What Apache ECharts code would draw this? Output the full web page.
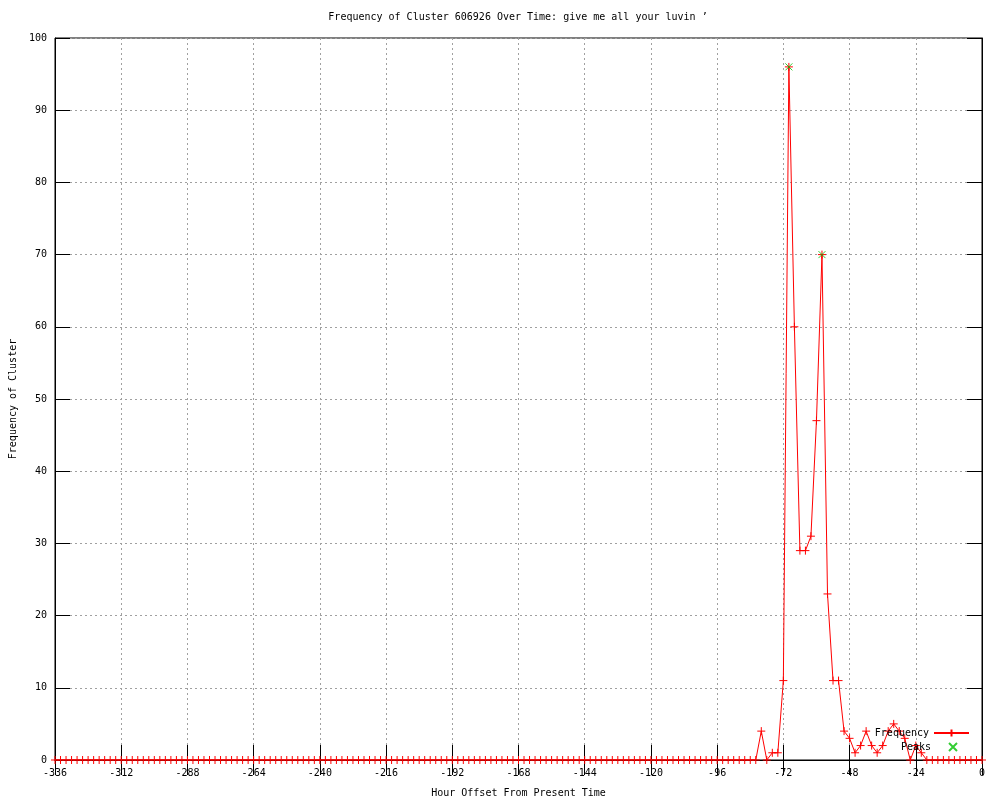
<!DOCTYPE html>
<html>
<head>
<meta charset="utf-8">
<script src="https://cdn.jsdelivr.net/npm/echarts@6/dist/echarts.min.js"></script>
<style>html,body{margin:0;padding:0;background:#fff}#c{width:1000px;height:800px}</style>
</head>
<body>
<div id="c"></div>
<script>
const hours = [
-336,-334,-332,-330,-328,-326,-324,-322,-320,-318,-316,-314,-312,-310,-308,-306,
-304,-302,-300,-298,-296,-294,-292,-290,-288,-286,-284,-282,-280,-278,-276,-274,
-272,-270,-268,-266,-264,-262,-260,-258,-256,-254,-252,-250,-248,-246,-244,-242,
-240,-238,-236,-234,-232,-230,-228,-226,-224,-222,-220,-218,-216,-214,-212,-210,
-208,-206,-204,-202,-200,-198,-196,-194,-192,-190,-188,-186,-184,-182,-180,-178,
-176,-174,-172,-170,-168,-166,-164,-162,-160,-158,-156,-154,-152,-150,-148,-146,
-144,-142,-140,-138,-136,-134,-132,-130,-128,-126,-124,-122,-120,-118,-116,-114,
-112,-110,-108,-106,-104,-102,-100,-98,-96,-94,-92,-90,-88,-86,-84,-82,
-80,-78,-76,-74,-72,-70,-68,-66,-64,-62,-60,-58,-56,-54,-52,-50,
-48,-46,-44,-42,-40,-38,-36,-34,-32,-30,-28,-26,-24,-22,-20,-18,
-16,-14,-12,-10,-8,-6,-4,-2,0
];
const frequency = [
0,0,0,0,0,0,0,0,0,0,0,0,0,0,0,0,
0,0,0,0,0,0,0,0,0,0,0,0,0,0,0,0,
0,0,0,0,0,0,0,0,0,0,0,0,0,0,0,0,
0,0,0,0,0,0,0,0,0,0,0,0,0,0,0,0,
0,0,0,0,0,0,0,0,0,0,0,0,0,0,0,0,
0,0,0,0,0,0,0,0,0,0,0,0,0,0,0,0,
0,0,0,0,0,0,0,0,0,0,0,0,0,0,0,0,
0,0,0,0,0,0,0,0,0,0,0,0,0,0,0,0,
4,0,1,1,11,96,60,29,29,31,47,70,23,11,11,4,
3,1,2,4,2,1,2,4,5,4,3,0,2,1,0,0,
0,0,0,0,0,0,0,0,0
];
const peakHours = [-70, -58];
const peakValues = [96, 70];

const xMin = -336, xMax = 0, xStep = 24;
const yMin = 0, yMax = 100, yStep = 10;

const FONT = 'DejaVu Sans Mono';
const chart = echarts.init(document.getElementById('c'), null, {renderer: 'canvas'});
const plusPath = 'path://M0,4L8,4M4,0L4,8';
const xPath = 'path://M0,0L7,7M7,0L0,7';
const green = '#00c000';
const grid = {left: 55, right: 18, top: 38, bottom: 40, show: true, borderColor: '#000', borderWidth: 1,
  backgroundColor: 'transparent', containLabel: false, outerBoundsMode: 'none'};
const tickStyle = {show: true, inside: true, length: 15, lineStyle: {color: '#000', width: 1}};
const splitStyle = {show: true, lineStyle: {color: '#a0a0a0', type: [2, 3], width: 1}};
const labelStyle = {color: '#000', fontFamily: FONT, fontSize: 10};

chart.setOption({
  animation: false,
  backgroundColor: '#fff',
  title: {
    text: 'Frequency of Cluster 606926 Over Time: give me all your luvin ’',
    left: 518, top: 12, textAlign: 'center', padding: 0,
    textStyle: {fontFamily: FONT, fontSize: 10, fontWeight: 'normal', color: '#000'}
  },
  grid: grid,
  legend: [
    {data: ['Frequency'], right: 30, top: 728, orient: 'vertical', align: 'right', padding: 0,
     itemWidth: 35, itemHeight: 9, selectedMode: false,
     textStyle: {fontFamily: FONT, fontSize: 10, color: '#000'}},
    {data: ['Peaks'], right: 42, top: 742, orient: 'vertical', align: 'right', padding: 0,
     itemWidth: 8, itemHeight: 8, selectedMode: false,
     textStyle: {fontFamily: FONT, fontSize: 10, color: '#000', padding: [0, 13, 0, 0]}}
  ],
  xAxis: [
    {type: 'value', min: xMin, max: xMax, interval: xStep, position: 'bottom',
     name: 'Hour Offset From Present Time', nameLocation: 'middle', nameGap: 28,
     nameTextStyle: {fontFamily: FONT, fontSize: 10, color: '#000'},
     axisLine: {show: true, onZero: false, lineStyle: {color: '#000'}},
     axisTick: tickStyle, splitLine: splitStyle,
     axisLabel: Object.assign({margin: 8}, labelStyle)},
    {type: 'value', min: xMin, max: xMax, interval: xStep, position: 'top',
     axisLine: {show: true, lineStyle: {color: '#000'}},
     axisTick: tickStyle, splitLine: {show: false}, axisLabel: {show: false}}
  ],
  yAxis: [
    {type: 'value', min: yMin, max: yMax, interval: yStep, position: 'left',
     name: 'Frequency of Cluster', nameLocation: 'middle', nameGap: 36, nameRotate: 90,
     nameTextStyle: {fontFamily: FONT, fontSize: 10, color: '#000'},
     axisLine: {show: true, onZero: false, lineStyle: {color: '#000'}},
     axisTick: tickStyle, splitLine: splitStyle,
     axisLabel: Object.assign({margin: 8}, labelStyle)},
    {type: 'value', min: yMin, max: yMax, interval: yStep, position: 'right',
     axisLine: {show: true, lineStyle: {color: '#000'}},
     axisTick: tickStyle, splitLine: {show: false}, axisLabel: {show: false}}
  ],
  series: [
    {name: 'Frequency', type: 'line', xAxisIndex: 0, yAxisIndex: 0,
     data: hours.map((h, i) => [h, frequency[i]]),
     showAllSymbol: true, symbol: plusPath, symbolSize: 8,
     lineStyle: {color: '#ff0000', width: 1},
     itemStyle: {color: '#ff0000', borderColor: '#ff0000', borderWidth: 1},
     emphasis: {disabled: true}, z: 3},
    {name: 'Peaks', type: 'scatter', xAxisIndex: 0, yAxisIndex: 0,
     data: peakHours.map((h, i) => [h, peakValues[i]]),
     symbol: xPath, symbolSize: 7,
     itemStyle: {color: green, borderColor: green, borderWidth: 1},
     emphasis: {disabled: true}, z: 4}
  ]
});
</script>
</body>
</html>
